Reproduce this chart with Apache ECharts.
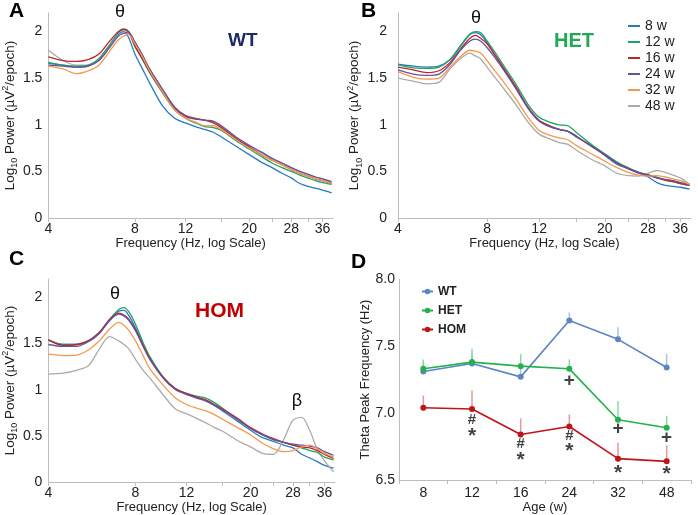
<!DOCTYPE html>
<html>
<head>
<meta charset="utf-8">
<script src="https://cdn.jsdelivr.net/npm/echarts@6/dist/echarts.min.js"></script>
<style>
  html, body { margin: 0; padding: 0; background: #fff; }
  #main { width: 698px; height: 515px; }
</style>
</head>
<body>
<div id="main"></div>
<script>
var freqs = [4, 4.5, 5, 5.5, 6, 6.5, 7, 7.3, 7.6, 8, 8.5, 9, 10, 11, 12, 13, 14, 15, 16, 18, 20, 22, 24, 26, 28, 30, 32, 34, 36, 38.7];

// panel A - WT
var wt8  = [1.66,1.64,1.62,1.63,1.70,1.83,1.97,2.00,1.94,1.76,1.60,1.45,1.20,1.07,1.02,0.98,0.95,0.92,0.87,0.77,0.68,0.60,0.54,0.48,0.43,0.37,0.34,0.32,0.30,0.27];
var wt12 = [1.67,1.64,1.63,1.64,1.71,1.85,1.99,2.02,2.00,1.84,1.70,1.56,1.34,1.16,1.07,1.02,0.98,0.97,0.94,0.83,0.74,0.66,0.59,0.54,0.50,0.46,0.43,0.40,0.38,0.36];
var wt16 = [1.73,1.69,1.68,1.70,1.76,1.89,2.00,2.03,2.00,1.85,1.71,1.57,1.35,1.18,1.09,1.06,1.05,1.02,0.97,0.85,0.76,0.68,0.62,0.57,0.52,0.48,0.45,0.42,0.40,0.37];
var wt24 = [1.64,1.63,1.62,1.63,1.69,1.82,1.95,1.98,1.99,1.89,1.75,1.60,1.38,1.19,1.10,1.07,1.05,1.04,0.99,0.87,0.78,0.71,0.64,0.59,0.54,0.50,0.47,0.44,0.42,0.39];
var wt32 = [1.63,1.60,1.55,1.58,1.64,1.78,1.91,1.95,1.97,1.87,1.73,1.58,1.35,1.16,1.07,1.03,0.99,0.99,0.95,0.84,0.75,0.68,0.62,0.57,0.52,0.48,0.45,0.42,0.40,0.37];
var wt48 = [1.80,1.69,1.64,1.64,1.71,1.84,1.96,1.99,2.00,1.88,1.74,1.60,1.37,1.19,1.10,1.07,1.05,1.03,0.98,0.86,0.77,0.70,0.64,0.59,0.54,0.50,0.47,0.44,0.42,0.38];

// panel B - HET
var het8  = [1.65,1.63,1.62,1.63,1.70,1.84,1.97,1.99,1.97,1.88,1.75,1.63,1.40,1.18,1.04,0.99,0.95,0.93,0.87,0.78,0.67,0.575,0.53,0.48,0.44,0.38,0.35,0.34,0.33,0.31];
var het12 = [1.645,1.61,1.605,1.62,1.70,1.85,1.975,2.00,1.99,1.90,1.78,1.66,1.44,1.22,1.08,1.03,1.00,0.99,0.92,0.79,0.69,0.60,0.54,0.49,0.465,0.44,0.41,0.39,0.37,0.35];
var het16 = [1.62,1.59,1.56,1.58,1.67,1.81,1.93,1.96,1.93,1.87,1.75,1.63,1.41,1.19,1.05,0.99,0.95,0.93,0.88,0.77,0.68,0.59,0.53,0.49,0.46,0.43,0.405,0.39,0.37,0.35];
var het24 = [1.59,1.545,1.53,1.545,1.65,1.80,1.90,1.92,1.90,1.83,1.72,1.61,1.39,1.18,1.04,0.98,0.95,0.93,0.88,0.77,0.68,0.59,0.53,0.49,0.46,0.43,0.415,0.40,0.38,0.36];
var het32 = [1.57,1.51,1.49,1.50,1.62,1.73,1.80,1.79,1.77,1.69,1.58,1.48,1.28,1.08,0.94,0.89,0.86,0.84,0.78,0.69,0.61,0.54,0.49,0.46,0.45,0.455,0.44,0.42,0.40,0.36];
var het48 = [1.50,1.47,1.44,1.455,1.60,1.71,1.77,1.74,1.71,1.62,1.51,1.41,1.22,1.03,0.90,0.85,0.81,0.79,0.73,0.63,0.56,0.48,0.455,0.45,0.48,0.51,0.49,0.46,0.43,0.36];

// panel C - HOM
var hom8  = [1.54,1.49,1.49,1.53,1.62,1.745,1.85,1.86,1.80,1.67,1.49,1.34,1.13,1.01,0.95,0.92,0.88,0.83,0.77,0.66,0.56,0.48,0.44,0.40,0.37,0.30,0.26,0.22,0.18,0.15];
var hom12 = [1.54,1.49,1.49,1.53,1.62,1.76,1.87,1.89,1.84,1.71,1.51,1.35,1.13,1.01,0.96,0.93,0.91,0.86,0.80,0.68,0.58,0.51,0.46,0.43,0.40,0.37,0.34,0.32,0.27,0.24];
var hom16 = [1.54,1.48,1.49,1.53,1.62,1.76,1.83,1.81,1.76,1.65,1.48,1.33,1.13,1.01,0.96,0.92,0.89,0.84,0.79,0.69,0.59,0.52,0.47,0.43,0.40,0.38,0.37,0.34,0.30,0.255];
var hom24 = [1.49,1.47,1.47,1.52,1.61,1.75,1.82,1.80,1.75,1.64,1.47,1.32,1.12,1.00,0.95,0.91,0.88,0.83,0.78,0.68,0.58,0.51,0.46,0.43,0.41,0.40,0.39,0.37,0.33,0.29];
var hom32 = [1.385,1.37,1.375,1.43,1.53,1.655,1.73,1.70,1.64,1.53,1.37,1.22,1.045,0.91,0.84,0.80,0.77,0.73,0.68,0.59,0.51,0.42,0.36,0.33,0.34,0.38,0.40,0.36,0.31,0.27];
var hom48 = [1.17,1.18,1.21,1.26,1.44,1.575,1.53,1.49,1.44,1.33,1.21,1.12,0.94,0.79,0.74,0.69,0.64,0.59,0.55,0.45,0.38,0.31,0.30,0.46,0.67,0.70,0.56,0.35,0.23,0.11];

var ageNames = ['8 w', '12 w', '16 w', '24 w', '32 w', '48 w'];
var ageColors = ['#2a78c2', '#1fa463', '#c0242b', '#6a4f9c', '#f39a4e', '#ababab'];

// panel D - theta peak frequency
var ages = ['8', '12', '16', '24', '32', '48'];
var wtPeak  = [7.31, 7.37, 7.27, 7.69, 7.55, 7.34];
var hetPeak = [7.33, 7.38, 7.35, 7.33, 6.95, 6.89];
var homPeak = [7.04, 7.03, 6.84, 6.90, 6.66, 6.64];
var wtSem  = [0.07, 0.08, 0.08, 0.06, 0.09, 0.10];
var hetSem = [0.07, 0.10, 0.09, 0.07, 0.14, 0.09];
var homSem = [0.09, 0.14, 0.12, 0.09, 0.12, 0.12];

// significance marks
var markAge  = ['24', '32', '48', '12', '12', '16', '16', '24', '24', '32', '48'];
var markVal  = [7.243, 6.886, 6.818, 6.95, 6.864, 6.773, 6.687, 6.833, 6.751, 6.586, 6.578];
var markText = ['+', '+', '+', '#', '*', '#', '*', '#', '*', '*', '*'];

var FONT = '"Liberation Sans", Arial, sans-serif';
var log2 = function (v) { return Math.log(v) / Math.LN2; };

var chart = echarts.init(document.getElementById('main'), null, {renderer: 'canvas'});

var grids = [
  {left: 41, top: 13, width: 292, height: 205},
  {left: 398, top: 13, width: 293, height: 205},
  {left: 43, top: 279, width: 292, height: 203},
  {left: 399, top: 279, width: 292, height: 203}
];

function freqAxis(idx) {
  return {
    type: 'value', gridIndex: idx, min: 2, max: 5.29,
    name: 'Frequency (Hz, log Scale)', nameLocation: 'middle', nameGap: 18,
    nameTextStyle: {fontSize: 13, color: '#222', fontFamily: FONT},
    axisLine: {lineStyle: {color: '#bdbdbd'}},
    axisTick: {show: true, length: 4, lineStyle: {color: '#bdbdbd'},
      customValues: [4, 8, 12, 16, 20, 24, 28, 32, 36].map(log2)},
    axisLabel: {customValues: [4, 8, 12, 20, 28, 36].map(log2), margin: 4,
      fontSize: 14, color: '#222', fontFamily: FONT,
      formatter: function (v) { return Math.round(Math.pow(2, v)); }},
    splitLine: {show: false}
  };
}

function powerAxis(idx, margin) {
  return {
    type: 'value', gridIndex: idx, min: 0, max: 2.2,
    name: 'Log{sub|10} Power (µV{sup|2}/epoch)', nameLocation: 'middle', nameGap: 24,
    nameTextStyle: {fontSize: 13.5, color: '#222', fontFamily: FONT, lineHeight: 18,
      rich: {
        sub: {fontSize: 9, lineHeight: 10, verticalAlign: 'bottom', fontFamily: FONT, color: '#222'},
        sup: {fontSize: 9, lineHeight: 10, verticalAlign: 'top', fontFamily: FONT, color: '#222'}
      }},
    axisLine: {show: true, lineStyle: {color: '#bdbdbd'}},
    axisTick: {show: false},
    axisLabel: {customValues: [0, 0.5, 1, 1.5, 2], margin: margin,
      fontSize: 14, color: '#222', fontFamily: FONT},
    splitLine: {show: false}
  };
}

var panelData = [
  [wt8, wt12, wt16, wt24, wt32, wt48],
  [het8, het12, het16, het24, het32, het48],
  [hom8, hom12, hom16, hom24, hom32, hom48]
];

var series = [];
panelData.forEach(function (group, p) {
  group.forEach(function (vals, k) {
    series.push({
      type: 'line', name: ageNames[k], xAxisIndex: p, yAxisIndex: p,
      symbol: 'none', smooth: 0.3, z: 2 + (k === 5 ? 0 : k),
      lineStyle: {width: 1.3, color: ageColors[k]},
      itemStyle: {color: ageColors[k]},
      data: freqs.map(function (f, i) { return [log2(f), vals[i]]; })
    });
  });
});

function errBars(means, sems, color) {
  return {
    type: 'custom', xAxisIndex: 3, yAxisIndex: 3, z: 1, silent: true,
    data: ages.map(function (a, i) { return [i, means[i], means[i] + sems[i]]; }),
    renderItem: function (params, api) {
      var p0 = api.coord([api.value(0), api.value(1)]);
      var p1 = api.coord([api.value(0), api.value(2)]);
      return {type: 'line', shape: {x1: p0[0], y1: p0[1], x2: p1[0], y2: p1[1]},
        style: {stroke: color, lineWidth: 1.5}};
    }
  };
}

var groupColors = {WT: '#5b86c4', HET: '#23b14d', HOM: '#c0141c'};
series.push(errBars(wtPeak, wtSem, '#a9c1e4'));
series.push(errBars(hetPeak, hetSem, '#8fd6a4'));
series.push(errBars(homPeak, homSem, '#e59a9a'));

[['WT', wtPeak], ['HET', hetPeak], ['HOM', homPeak]].forEach(function (g) {
  series.push({
    type: 'line', name: g[0], xAxisIndex: 3, yAxisIndex: 3, z: 3,
    symbol: 'circle', symbolSize: 6,
    lineStyle: {width: 1.6, color: groupColors[g[0]]},
    itemStyle: {color: groupColors[g[0]]},
    data: g[1]
  });
});

// significance marks drawn as label-only scatter points
series.push({
  type: 'scatter', xAxisIndex: 3, yAxisIndex: 3, symbolSize: 0, z: 4, silent: true,
  label: {
    show: true, position: 'inside', color: '#111', fontFamily: FONT,
    formatter: function (p) { return p.value[2]; }
  },
  data: markAge.map(function (a, i) {
    var t = markText[i];
    var lab = {fontSize: 19, fontWeight: 'bold'};
    if (t === '#') lab = {fontSize: 15, fontWeight: 'bold'};
    if (t === '*') lab = {fontSize: 21, fontWeight: 'bold', offset: [0, 5]};
    return {value: [a, markVal[i], t], label: lab};
  })
});

var option = {
  animation: false,
  backgroundColor: '#fff',
  textStyle: {fontFamily: FONT},
  grid: grids,
  xAxis: [freqAxis(0), freqAxis(1), freqAxis(2), {
    type: 'category', gridIndex: 3, data: ages, boundaryGap: true,
    name: 'Age (w)', nameLocation: 'middle', nameGap: 17,
    nameTextStyle: {fontSize: 13, color: '#222', fontFamily: FONT},
    axisLine: {lineStyle: {color: '#bdbdbd'}},
    axisTick: {show: true, length: 4, lineStyle: {color: '#bdbdbd'}},
    axisLabel: {fontSize: 14, color: '#222', margin: 6, fontFamily: FONT}
  }],
  yAxis: [powerAxis(0, 6), powerAxis(1, 11), powerAxis(2, 6), {
    type: 'value', gridIndex: 3, min: 6.5, max: 8, interval: 0.5,
    name: 'Theta Peak Frequency (Hz)', nameLocation: 'middle', nameGap: 24,
    nameTextStyle: {fontSize: 13, color: '#222', fontFamily: FONT},
    axisLine: {show: true, lineStyle: {color: '#bdbdbd'}},
    axisTick: {show: false},
    axisLabel: {fontSize: 14, color: '#222', margin: 4, fontFamily: FONT,
      formatter: function (v) { return v.toFixed(1); }},
    splitLine: {show: false}
  }],
  legend: [{
    id: 'ageLegend', data: ageNames, orient: 'vertical', left: 623, top: 13, itemGap: 0,
    itemWidth: 12, itemHeight: 2, icon: 'rect', selectedMode: false,
    textStyle: {fontSize: 14, color: '#222', lineHeight: 16, fontFamily: FONT}
  }, {
    id: 'groupLegend', data: ['WT', 'HET', 'HOM'], orient: 'vertical', left: 416, top: 277, itemGap: 0,
    itemWidth: 11, itemHeight: 7, selectedMode: false,
    textStyle: {fontSize: 12, fontWeight: 'bold', color: '#222', lineHeight: 19, fontFamily: FONT}
  }],
  graphic: [
    {type: 'text', x: 9, y: 1, style: {text: 'A', font: 'bold 21px ' + FONT, fill: '#000'}},
    {type: 'text', x: 361, y: 1, style: {text: 'B', font: 'bold 21px ' + FONT, fill: '#000'}},
    {type: 'text', x: 9, y: 249, style: {text: 'C', font: 'bold 21px ' + FONT, fill: '#000'}},
    {type: 'text', x: 351, y: 252, style: {text: 'D', font: 'bold 21px ' + FONT, fill: '#000'}},
    {type: 'text', x: 120, y: 3, style: {text: 'θ', font: '18px ' + FONT, fill: '#111', align: 'center'}},
    {type: 'text', x: 476, y: 9, style: {text: 'θ', font: '18px ' + FONT, fill: '#111', align: 'center'}},
    {type: 'text', x: 115, y: 285, style: {text: 'θ', font: '18px ' + FONT, fill: '#111', align: 'center'}},
    {type: 'text', x: 297, y: 392, style: {text: 'β', font: '18px ' + FONT, fill: '#111', align: 'center'}},
    {type: 'text', x: 228, y: 31, style: {text: 'WT', font: 'bold 19px ' + FONT, fill: '#1c2a6b'}},
    {type: 'text', x: 554, y: 31, style: {text: 'HET', font: 'bold 20px ' + FONT, fill: '#22a957'}},
    {type: 'text', x: 195, y: 301, style: {text: 'HOM', font: 'bold 21px ' + FONT, fill: '#c00000'}}
  ],
  series: series
};

chart.setOption(option);
</script>
</body>
</html>
